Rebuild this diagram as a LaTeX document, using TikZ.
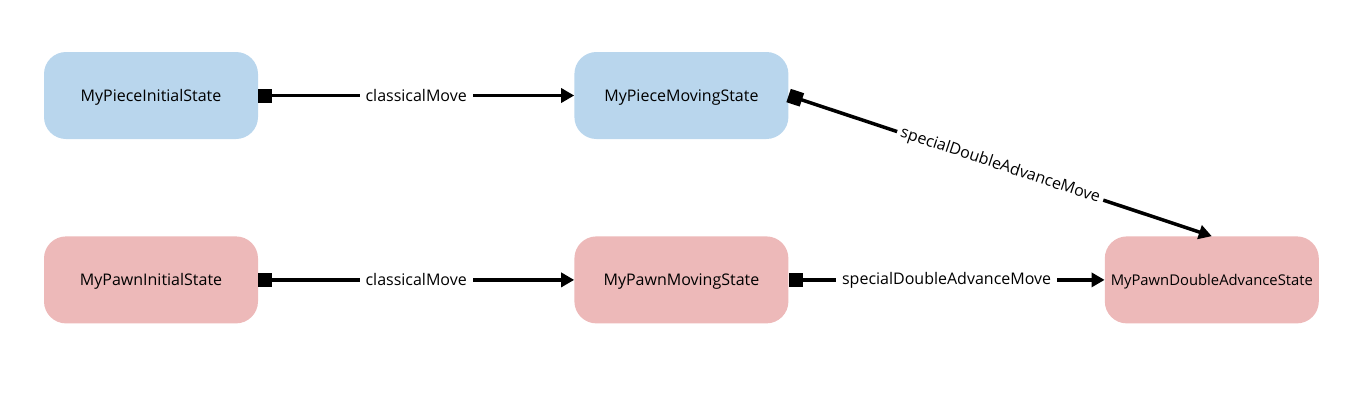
\documentclass[tikz,border=0pt]{standalone}
\usepackage{fontspec}
\setmainfont{Open Sans}
\usetikzlibrary{arrows.meta, positioning}
\definecolor{pieceblue}{RGB}{185,214,237}
\definecolor{pawnred}{RGB}{237,185,185}
\tikzset{
  % every connector: square at the start, solid head at the end
  trans/.style={line width=3.5pt,
    {Square[length=14pt,width=14pt]}-{Triangle[length=13pt,width=14pt]}},
  node distance=316pt and 97pt, % gap between the state boxes
  every state/.style={rounded corners=22pt, minimum width=214pt,
    minimum height=87pt, inner sep=0pt, text height=11.5pt, text depth=0pt,
    font=\fontsize{16}{19}\selectfont}, % sets the look of each state
  piece/.style={every state, fill=pieceblue},
  pawn/.style={every state, fill=pawnred},
  lbl/.style={fill=white, inner sep=6pt, font=\fontsize{16}{19}\selectfont},
}
\begin{document}
\begin{tikzpicture}
    \useasboundingbox (0pt,0pt) rectangle (1348pt,-415pt);

    \node[piece] (pieceinit) at (151pt,-95.5pt) {MyPieceInitialState};
    \node[piece, right=316pt of pieceinit] (piecemove) {MyPieceMovingState};
    \node[pawn, below=97pt of pieceinit] (pawninit) {MyPawnInitialState};
    \node[pawn, right=316pt of pawninit] (pawnmove) {MyPawnMovingState};
    \node[pawn, right=316pt of pawnmove, font=\fontsize{14.8}{18}\selectfont,
      text height=10.6pt] (pawndouble) {MyPawnDoubleAdvanceState};

    \draw
    (pieceinit) edge[trans] node[lbl] {classicalMove} (piecemove)
    (pawninit) edge[trans] node[lbl] {classicalMove} (pawnmove)
    (pawnmove) edge[trans] node[lbl] {specialDoubleAdvanceMove} (pawndouble)
    (piecemove.east) edge[trans] node[lbl, sloped, inner sep=4pt]
      {specialDoubleAdvanceMove} (pawndouble.north)
    ;
\end{tikzpicture}
\end{document}
